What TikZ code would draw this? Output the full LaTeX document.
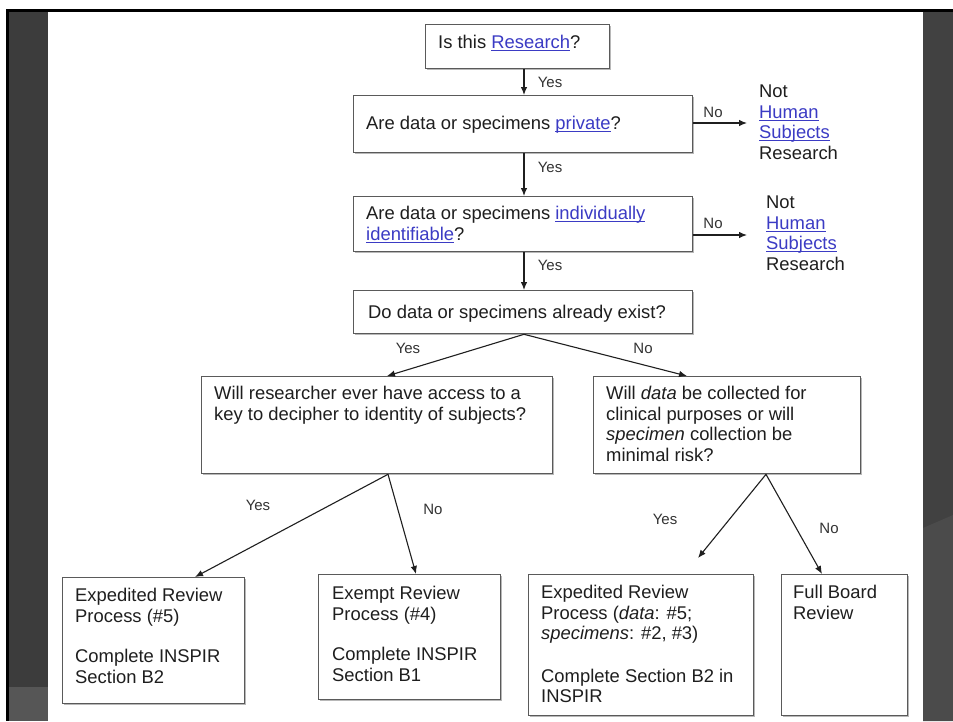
\documentclass[tikz,border=0pt]{standalone}
\usepackage{fontspec}
\setmainfont{Liberation Sans}
\usetikzlibrary{arrows.meta,shadows}
\definecolor{ink}{HTML}{1E1E1E}
\definecolor{linkblue}{HTML}{3B3BC4}
\definecolor{boxgray}{HTML}{5A5A5A}
\definecolor{lblgray}{HTML}{333333}
\definecolor{panel}{HTML}{3C3C3C}
\definecolor{panellight}{HTML}{565656}
\definecolor{rpanel}{HTML}{414141}
\definecolor{rpanellight}{HTML}{4B4B4B}
\newcommand{\lnk}[1]{\textcolor{linkblue}{\setbox0\hbox{#1}\rlap{\rule[-2.4pt]{\wd0}{0.9pt}}\box0}}
\begin{document}
\begin{tikzpicture}[x=1pt,y=-1pt,
  box/.style={draw=boxgray, line width=1.3pt, fill=white, inner sep=0pt, anchor=north west,
    drop shadow={shadow xshift=1.6pt, shadow yshift=-1.6pt, fill=black!28, opacity=1}},
  txt/.style={anchor=north west, inner sep=0pt, align=left, text=ink,
    font=\fontsize{18.4}{20.5}\selectfont},
  lbl/.style={inner sep=0pt, text=lblgray, font=\fontsize{15}{17}\selectfont},
  arr/.style={draw=black!88, line width=1.1pt, -{Latex[length=8pt,width=6.5pt]}}]
\useasboundingbox (0,0) rectangle (953,721);
% slide background
\fill[white] (0,0) rectangle (953,721);
\fill[black] (6,9) rectangle (953,12);
\fill[black] (6,9) rectangle (9,721);
\fill[panel] (9,12) rectangle (48,687);
\fill[panellight] (9,687) rectangle (48,721);
\fill[rpanel] (923,12) rectangle (953,721);
\fill[rpanellight] (923,528) -- (953,515) -- (953,721) -- (923,721) -- cycle;

% boxes
\node[box, minimum width=184pt, minimum height=44pt] (b1) at (425,24) {};
\node[box, minimum width=339pt, minimum height=57pt] (b2) at (353,95) {};
\node[box, minimum width=339pt, minimum height=55pt] (b3) at (353,196) {};
\node[box, minimum width=339pt, minimum height=43pt] (b4) at (353,290) {};
\node[box, minimum width=351pt, minimum height=97pt] (b5) at (201,376) {};
\node[box, minimum width=267pt, minimum height=97pt] (b6) at (593,376) {};
\node[box, minimum width=182pt, minimum height=126pt] (r1) at (62,577) {};
\node[box, minimum width=182pt, minimum height=125pt] (r2) at (318,574) {};
\node[box, minimum width=225pt, minimum height=141pt] (r3) at (528,574) {};
\node[box, minimum width=126pt, minimum height=141pt] (r4) at (781,574) {};

% box texts
\node[txt] (t1) at (438,35) {Is this \lnk{Research}?};
\node[txt] (t2) at (366,116) {Are data or specimens \lnk{private}?};
\node[txt] (t3) at (366,206) {Are data or specimens \lnk{individually}\\\lnk{identifiable}?};
\node[txt] (t4) at (368,305) {Do data or specimens already exist?};
\node[txt] (t5) at (214,386) {Will researcher ever have access to a\\key to decipher to identity of subjects?};
\node[txt] (t6) at (606,386) {Will \textit{data} be collected for\\clinical purposes or will\\\textit{specimen} collection be\\minimal risk?};
\node[txt] (tr1) at (75,588) {Expedited Review\\Process (\#5)\\[20pt]Complete INSPIR\\Section B2};
\node[txt] (tr2) at (332,586) {Exempt Review\\Process (\#4)\\[20pt]Complete INSPIR\\Section B1};
\node[txt] (tr3) at (541,585) {Expedited Review\\Process (\textit{data}: \#5;\\\textit{specimens}: \#2, \#3)\\[22pt]Complete Section B2 in\\INSPIR};
\node[txt] (tr4) at (793,585) {Full Board\\Review};

% side outcomes
\node[txt] (s1) at (759,85) {Not\\\lnk{Human}\\\lnk{Subjects}\\Research};
\node[txt] (s2) at (766,196) {Not\\\lnk{Human}\\\lnk{Subjects}\\Research};

% helper coordinates
\coordinate (cx) at (524,0);
\coordinate (n1) at (747,123);
\coordinate (n2) at (747,235);
\coordinate (c5) at (387,0);
\coordinate (c6) at (687,0);
\coordinate (a5) at (388,0);
\coordinate (e1) at (195,0);
\coordinate (e2) at (416,0);
\coordinate (a6) at (766,0);
\coordinate (e3) at (698,558);
\coordinate (e4) at (822,0);

% connectors
\draw[arr] (b1.south -| cx) -- (b2.north -| cx);
\draw[arr] (b2.south -| cx) -- (b3.north -| cx);
\draw[arr] (b3.south -| cx) -- (b4.north -| cx);
\draw[arr] (b2.east |- n1) -- (n1);
\draw[arr] (b3.east |- n2) -- (n2);
\draw[arr] (b4.south -| cx) -- (b5.north -| c5);
\draw[arr] (b4.south -| cx) -- (b6.north -| c6);
\draw[arr] (b5.south -| a5) -- (r1.north -| e1);
\draw[arr] (b5.south -| a5) -- (r2.north -| e2);
\draw[arr] (b6.south -| a6) -- (e3);
\draw[arr] (b6.south -| a6) -- (r4.north -| e4);

% labels
\node[lbl] (y1) at (550,82) {Yes};
\node[lbl] (y2) at (550,167) {Yes};
\node[lbl] (y3) at (550,265) {Yes};
\node[lbl] (no1) at (713,112) {No};
\node[lbl] (no2) at (713,223) {No};
\node[lbl] (y4) at (408,348) {Yes};
\node[lbl] (no3) at (643,348) {No};
\node[lbl] (y5) at (258,505) {Yes};
\node[lbl] (no4) at (433,509) {No};
\node[lbl] (y6) at (665,519) {Yes};
\node[lbl] (no5) at (829,528) {No};
\end{tikzpicture}
\end{document}
